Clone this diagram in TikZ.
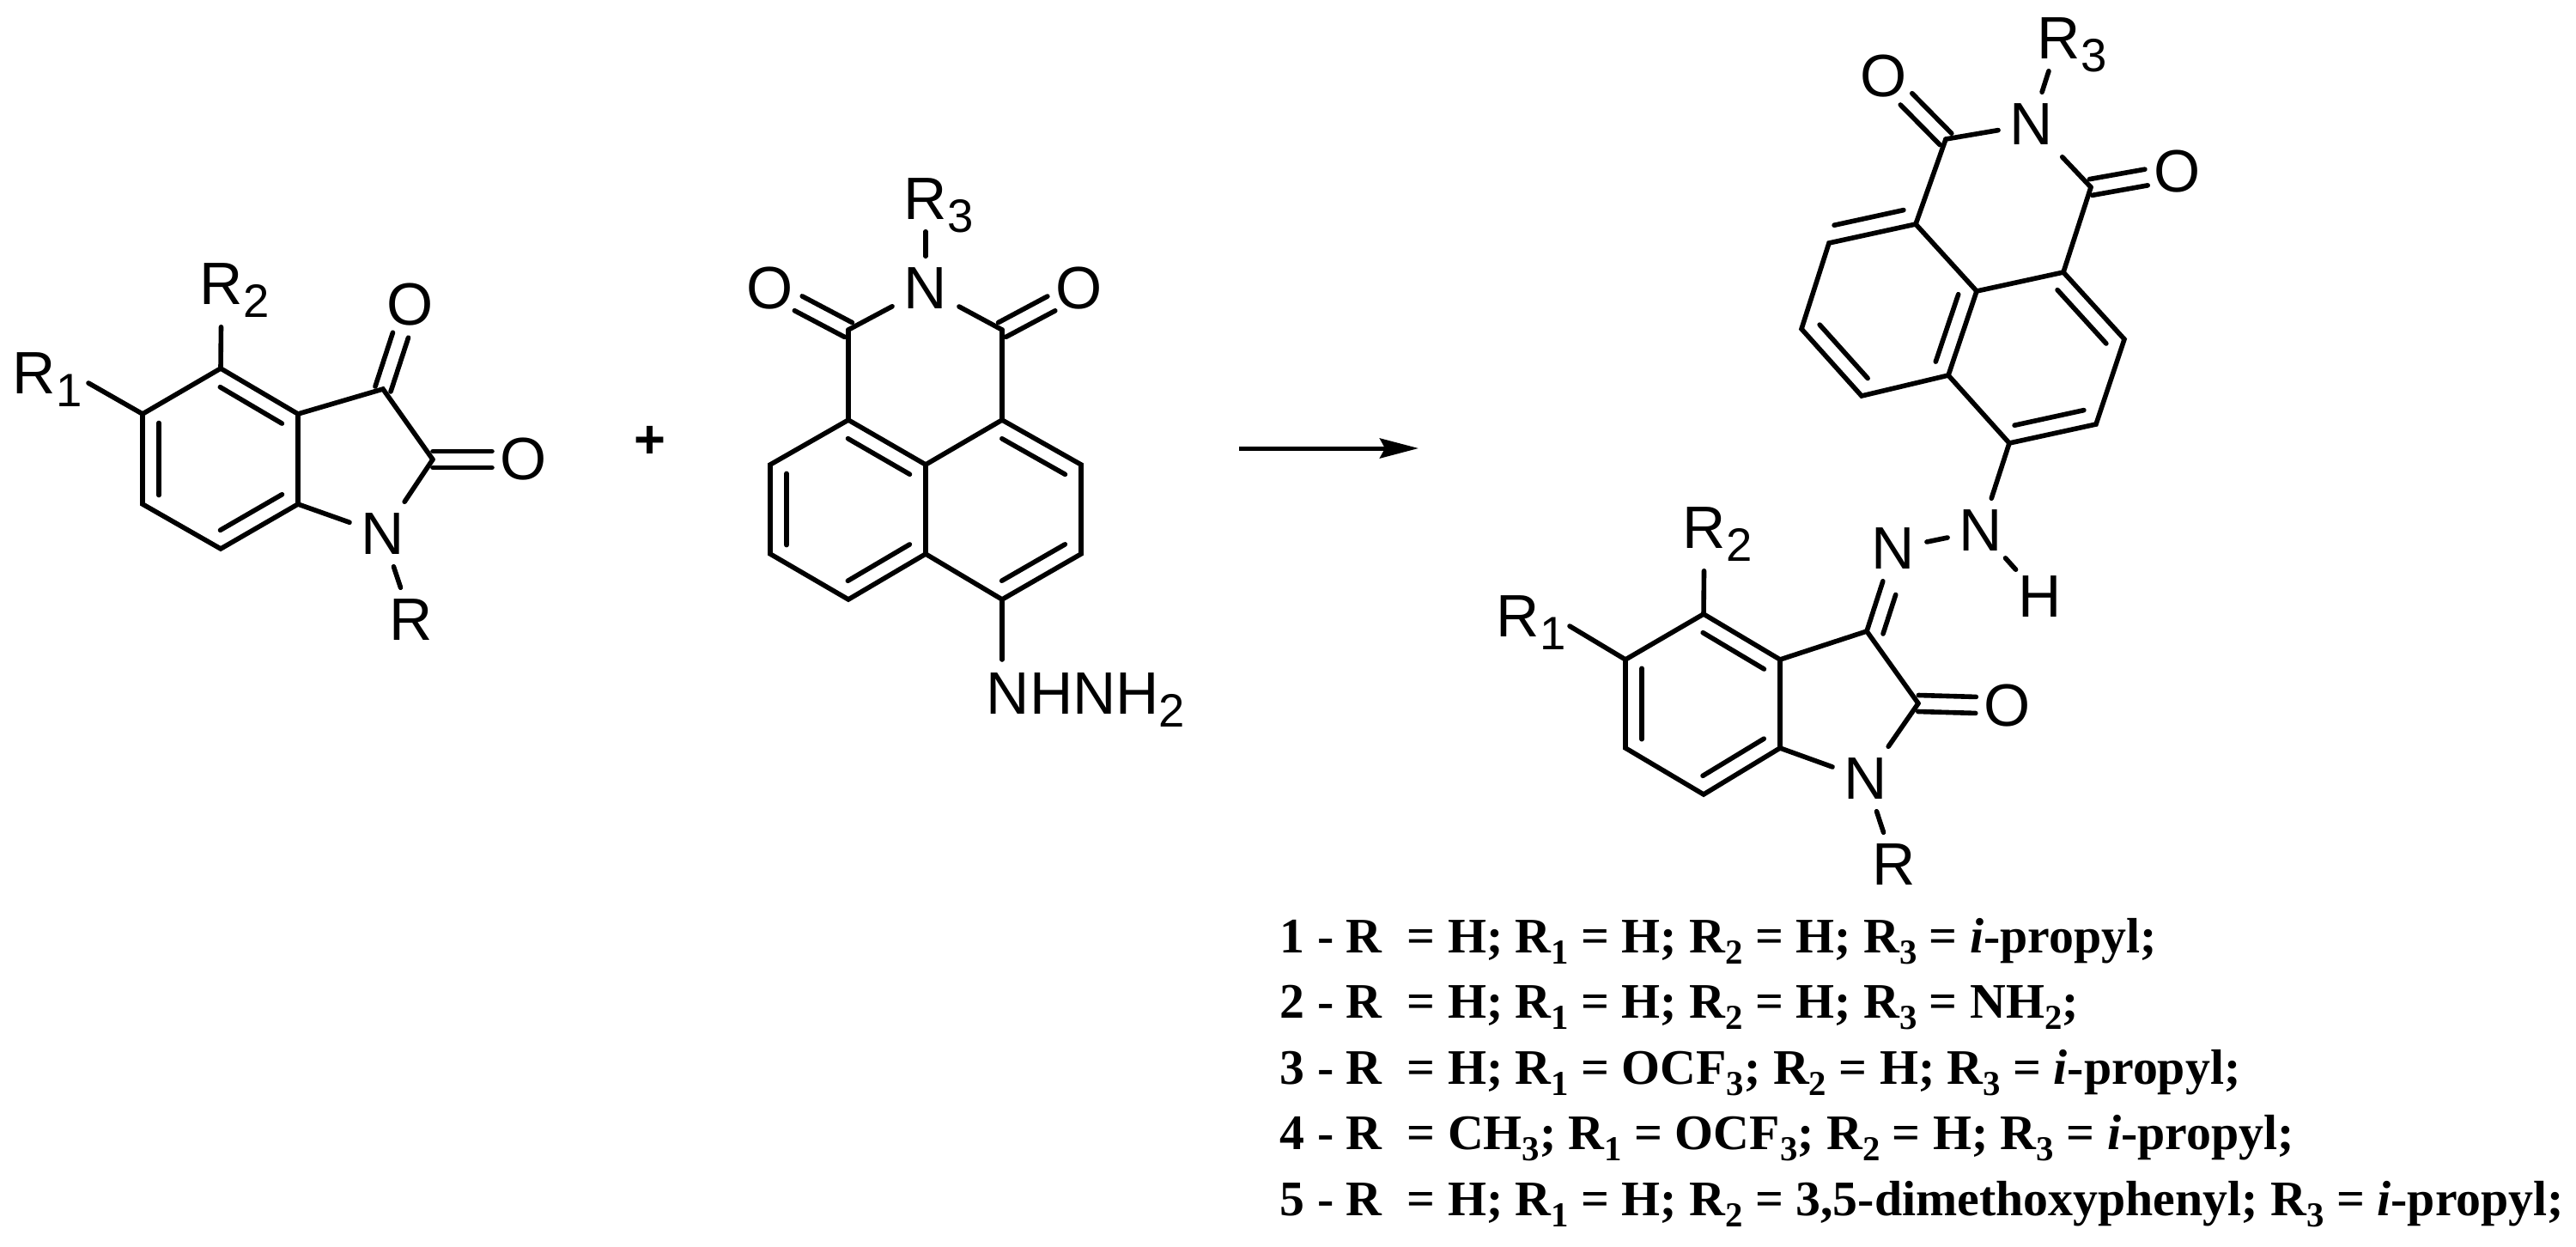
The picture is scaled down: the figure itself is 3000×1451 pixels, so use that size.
\documentclass[tikz,border=0pt]{standalone}
\usepackage{fontspec}
\setmainfont{Liberation Sans}
\newfontfamily\legendfont{Liberation Serif}
\usetikzlibrary{calc,arrows.meta}

\newcommand{\atomsub}[2]{#1\rlap{\fontsize{15.5}{15.5}\selectfont\raisebox{-.15cm}[0pt][0pt]{#2}}}
\newcommand{\lsub}[1]{{\fontsize{11.6}{11.6}\selectfont\raisebox{-.13cm}{#1}}}
% second line of a ring double bond, on the side given by the angle
\newcommand{\innerbond}[3]{\draw ($(#1)!.1!(#2)!.19cm!#3:(#2)$) -- ($(#1)!.9!(#2)!.19cm!#3:(#2)$);}
% C=O: two lines either side of the axis, stopped short of the atom label
\newcommand{\dblbond}[2]{%
  \draw[shorten >=.37cm] ($(#1)!.095cm!90:(#2)$) -- ($(#2)!.095cm!-90:(#1)$);
  \draw[shorten >=.37cm] ($(#1)!.095cm!-90:(#2)$) -- ($(#2)!.095cm!90:(#1)$);}

\tikzset{
  atom/.style={inner sep=.11cm, font=\fontsize{19.8}{19.8}\selectfont},
  legend/.style={anchor=base west, inner sep=0pt, font=\legendfont\bfseries\fontsize{16.45}{16.45}\selectfont},
}

\begin{document}
\begin{tikzpicture}[x=.01cm, y=-.01cm, line width=.056cm, line cap=round, line join=miter]
  \useasboundingbox (0,0) rectangle (3000,1451);

  % isatin
  \coordinate (a1) at (257,429);
  \coordinate (a2) at (347,482);
  \coordinate (a3) at (347,587);
  \coordinate (a4) at (257,639);
  \coordinate (a5) at (166,587);
  \coordinate (a6) at (166,482);
  \coordinate (a7) at (446,453);
  \coordinate (a8) at (504,535);
  \coordinate (ar1) at (103,446);
  \node[atom] (an) at (446,622) {N};
  \node[atom] (ar) at (479,722) {R};
  \node[atom] (ao1) at (478,355) {O};
  \node[atom] (ao2) at (610,535) {O};
  \node[atom] (ar2) at (258,331) {\atomsub{R}{2}};
  \node[atom] (ar11) at (40,435) {\atomsub{R}{1}};
  \draw (a1) -- (a2) -- (a3) -- (a4) -- (a5) -- (a6) -- cycle;
  \draw (a2) -- (a7) -- (a8);
  \draw (a3) -- (an);
  \draw (a8) -- (an);
  \draw (an) -- (ar);
  \draw (a6) -- (ar1);
  \draw[shorten >=.12cm] (a1) -- (ar2);
  \innerbond{a1}{a2}{-90}
  \innerbond{a3}{a4}{-90}
  \innerbond{a5}{a6}{-90}
  \dblbond{a7}{ao1}
  \dblbond{a8}{ao2}

  \node[font=\fontsize{18}{18}\selectfont\bfseries, inner sep=0pt] (plus) at (757,515) {+};

  % hydrazine
  \coordinate (b1) at (988,489);
  \coordinate (b2) at (1078,541);
  \coordinate (b3) at (1167,489);
  \coordinate (b4) at (1259,541);
  \coordinate (b5) at (1259,645);
  \coordinate (b6) at (1167,698);
  \coordinate (b7) at (1078,645);
  \coordinate (b8) at (988,698);
  \coordinate (b9) at (897,645);
  \coordinate (b10) at (897,541);
  \coordinate (b11) at (988,384);
  \coordinate (b12) at (1167,384);
  \node[atom] (bn) at (1078,336) {N};
  \node[atom] (bo1) at (897,336) {O};
  \node[atom] (bo2) at (1257,336) {O};
  \node[atom] (br3) at (1078,232) {\atomsub{R}{3}};
  \node[atom, anchor=base west, inner sep=0pt] (bhyd) at (1146,831) {NHNH\atomsub{}{2}};
  \coordinate (bhe) at (1167,768);
  \draw (b1) -- (b2) -- (b3) -- (b4) -- (b5) -- (b6) -- (b7) -- (b8) -- (b9) -- (b10) -- cycle;
  \draw (b2) -- (b7);
  \draw (b1) -- (b11);
  \draw (b3) -- (b12);
  \draw (b11) -- (bn);
  \draw (b12) -- (bn);
  \draw (bn) -- (br3);
  \draw (b6) -- (bhe);
  \innerbond{b1}{b2}{-90}
  \innerbond{b3}{b4}{-90}
  \innerbond{b5}{b6}{-90}
  \innerbond{b7}{b8}{-90}
  \innerbond{b9}{b10}{-90}
  \dblbond{b11}{bo1}
  \dblbond{b12}{bo2}

  % arrow
  \coordinate (arrs) at (1443,522);
  \coordinate (arre) at (1652,522);
  \draw[line width=.05cm, line cap=butt, -{Stealth[length=.45cm, width=.23cm, inset=.06cm]}] (arrs) -- (arre);

  % product
  \coordinate (q1) at (2231,261);
  \coordinate (q2) at (2302,339);
  \coordinate (q3) at (2403,317);
  \coordinate (q4) at (2474,395);
  \coordinate (q5) at (2441,494);
  \coordinate (q6) at (2340,516);
  \coordinate (q7) at (2269,437);
  \coordinate (q8) at (2168,461);
  \coordinate (q9) at (2098,383);
  \coordinate (q10) at (2130,283);
  \coordinate (q11) at (2266,162);
  \coordinate (q12) at (2435,218);
  \node[atom] (qn) at (2366,145) {N};
  \node[atom] (qo1) at (2194,89) {O};
  \node[atom] (qo2) at (2536,200) {O};
  \node[atom] (qr3) at (2398,45) {\atomsub{R}{3}};
  \draw (q1) -- (q2) -- (q3) -- (q4) -- (q5) -- (q6) -- (q7) -- (q8) -- (q9) -- (q10) -- cycle;
  \draw (q2) -- (q7);
  \draw (q1) -- (q11);
  \draw (q3) -- (q12);
  \draw (q11) -- (qn);
  \draw (q12) -- (qn);
  \draw (qn) -- (qr3);
  \innerbond{q1}{q10}{-90}
  \innerbond{q3}{q4}{-90}
  \innerbond{q5}{q6}{-90}
  \innerbond{q2}{q7}{-90}
  \innerbond{q8}{q9}{-90}
  \dblbond{q11}{qo1}
  \dblbond{q12}{qo2}

  \node[atom] (hn1) at (2307,618) {N};
  \node[atom] (hn2) at (2205,639) {N};
  \node[atom] (hh) at (2376,695) {H};
  \draw (hn1) -- (q6);
  \draw (hn1) -- (hn2);
  \draw[shorten <=-.08cm, shorten >=-.08cm] (hn1) -- (hh);

  \coordinate (s1) at (1984,715);
  \coordinate (s2) at (2073,768);
  \coordinate (s3) at (2073,871);
  \coordinate (s4) at (1984,925);
  \coordinate (s5) at (1893,871);
  \coordinate (s6) at (1893,768);
  \coordinate (s7) at (2174,735);
  \coordinate (s8) at (2234,819);
  \coordinate (sr1) at (1828,729);
  \node[atom] (sn) at (2173,907) {N};
  \node[atom] (sr) at (2206,1007) {R};
  \node[atom] (so) at (2338,822) {O};
  \node[atom] (sr2) at (1985,615) {\atomsub{R}{2}};
  \node[atom] (sr11) at (1768,718) {\atomsub{R}{1}};
  \draw (s1) -- (s2) -- (s3) -- (s4) -- (s5) -- (s6) -- cycle;
  \draw (s2) -- (s7) -- (s8);
  \draw (s3) -- (sn);
  \draw (s8) -- (sn);
  \draw (sn) -- (sr);
  \draw (s6) -- (sr1);
  \draw[shorten >=.12cm] (s1) -- (sr2);
  \draw (s7) -- (hn2);
  \draw[shorten <=.03cm, shorten >=.5cm] ($(s7)!.19cm!-90:(hn2)$) -- ($(hn2)!.19cm!90:(s7)$);
  \innerbond{s1}{s2}{-90}
  \innerbond{s3}{s4}{-90}
  \innerbond{s5}{s6}{-90}
  \dblbond{s8}{so}

  % compound list
  \node[legend] (l1) at (1488,1109) {1 - R\ \ = H; R\lsub{1} = H; R\lsub{2} = H; R\lsub{3} = \textit{i}-propyl;};
  \node[legend] (l2) at (1488,1185) {2 - R\ \ = H; R\lsub{1} = H; R\lsub{2} = H; R\lsub{3} = NH\lsub{2};};
  \node[legend] (l3) at (1488,1262) {3 - R\ \ = H; R\lsub{1} = OCF\lsub{3}; R\lsub{2} = H; R\lsub{3} = \textit{i}-propyl;};
  \node[legend] (l4) at (1488,1338) {4 - R\ \ = CH\lsub{3}; R\lsub{1} = OCF\lsub{3}; R\lsub{2} = H; R\lsub{3} = \textit{i}-propyl;};
  \node[legend] (l5) at (1488,1415) {5 - R\ \ = H; R\lsub{1} = H; R\lsub{2} = 3,5-dimethoxyphenyl; R\lsub{3} = \textit{i}-propyl;};
\end{tikzpicture}
\end{document}
